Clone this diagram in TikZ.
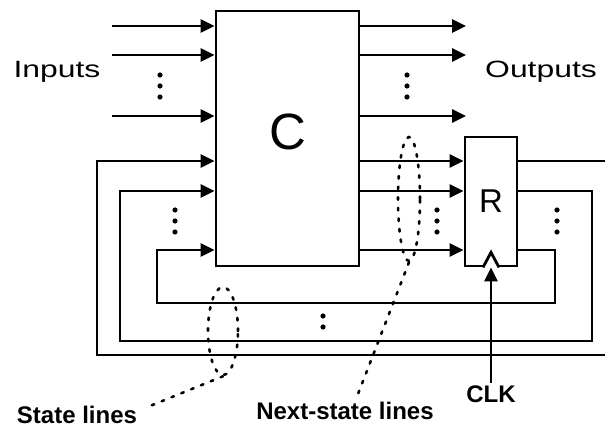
\documentclass[tikz,border=0pt]{standalone}
\usepackage{fontspec}
\setmainfont{Liberation Sans}
\newfontfamily\widefont[FakeStretch=1.35]{Liberation Sans}
\usetikzlibrary{arrows.meta,calc,shapes.geometric}

\begin{document}
\begin{tikzpicture}[x=0.5pt,y=-0.5pt,>={Triangle[length=7pt,width=6.5pt]},
  wire/.style={line width=1.4pt},
  arrow/.style={->,line width=1.4pt},
  blk/.style={draw,line width=1.4pt,inner sep=0pt},
  lbl/.style={inner sep=0pt,anchor=base},
  toplbl/.style={lbl,font=\widefont\fontsize{11.8}{13}\selectfont},
  botlbl/.style={lbl,font=\bfseries\fontsize{12}{13}\selectfont},
  ring/.style={line width=1.3pt,dash pattern=on 1.3pt off 4pt,line cap=round},
  dot/.style={fill,circle,inner sep=0pt,minimum size=2.6pt}]
\useasboundingbox (0,0) rectangle (605,432);
% blocks
\node[blk,minimum width=71.5pt,minimum height=127.5pt] (C) at (287.5,138.5) {};
\node[lbl,font=\fontsize{25.5}{27}\selectfont] (Ctxt) at (288,150) {C};
\node[blk,minimum width=26pt,minimum height=64.5pt,font=\fontsize{16.5}{18}\selectfont] (R) at (491,201.5) {R};
% labels
\node[toplbl] (inlbl) at (57,78) {Inputs};
\node[toplbl] (outlbl) at (541,78) {Outputs};
\node[botlbl] (stlbl) at (77,423) {State lines};
\node[botlbl] (nslbl) at (345,420) {Next-state lines};
\node[botlbl] (clk) at (491,403) {CLK};
% inputs and outputs
\foreach \y [count=\i] in {26,55,116} {
  \coordinate (in\i) at (112,\y);
  \coordinate (out\i) at (466,\y);
  \draw[arrow] (in\i) -- (in\i -| C.west);
  \draw[arrow] (C.east |- out\i) -- (out\i);
}
% next-state lines
\foreach \y in {161,191,250}
  \draw[arrow] (C.east |- 0,\y) -- (R.west |- 0,\y);
% state feedback
\coordinate (edgeT) at (605,161);
\coordinate (edgeB) at (605,355);
\draw[arrow] (R.east |- 0,250) -- (555,250) -- (555,303) -- (157,303) -- (157,250) -- (C.west |- 0,250);
\draw[arrow] (R.east |- 0,191) -- (592,191) -- (592,341) -- (120,341) -- (120,191) -- (C.west |- 0,191);
\draw[wire] (R.east |- edgeT) -- (edgeT);
\draw[arrow] (edgeB) -- (97,355) -- (97,161) -- (C.west |- edgeT);
% clock
\draw[wire,fill=white] ($(R.south)+(-8,0)$) -- ($(R.south)+(0,-15)$) -- ($(R.south)+(8,0)$);
\draw[arrow] ([yshift=1.5pt]clk.north) -- (R.south);
% dots
\foreach \x/\y in {160/86,407/86,175/221,437/221,557/221}
  \foreach \d in {-11,0,11}
    \node[dot] at (\x,\y+\d) {};
\node[dot] at (323,316) {};
\node[dot] at (323,327) {};
% dotted rings
\node[ring,draw,ellipse,inner sep=0pt,minimum width=11pt,minimum height=62pt] (nsring) at (409,199) {};
\node[ring,draw,ellipse,inner sep=0pt,minimum width=15pt,minimum height=44pt] (string) at (223,331) {};
\coordinate (nsend) at (358,394);
\coordinate (stend) at (150,406);
\draw[ring] (nsring.south) -- (nsend);
\draw[ring] (string.south) -- (stend);
\end{tikzpicture}
\end{document}
